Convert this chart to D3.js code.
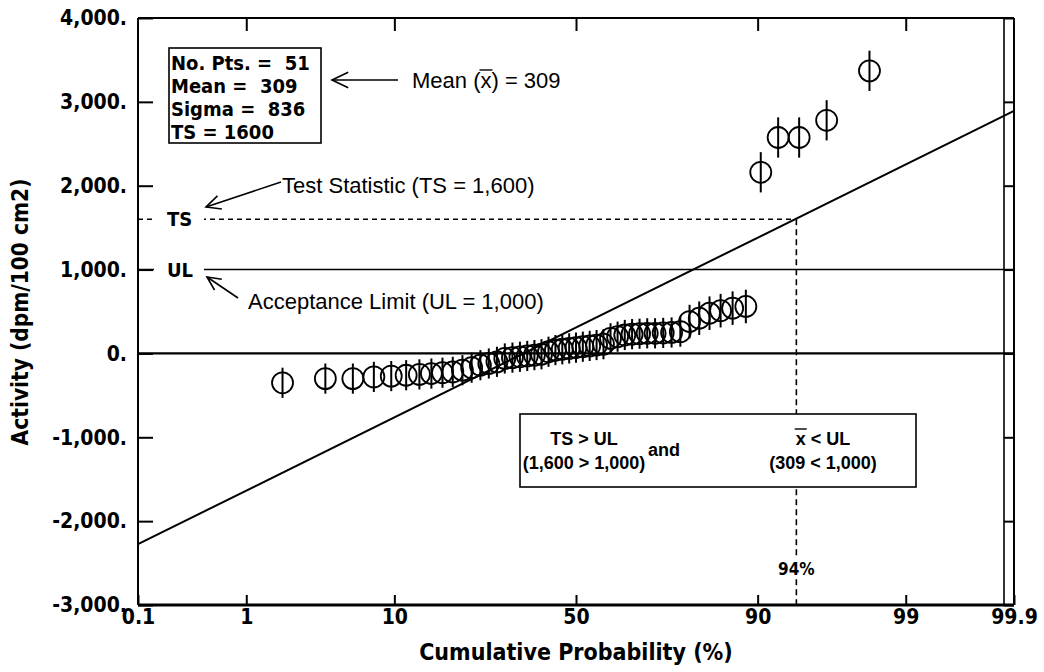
<!DOCTYPE html>
<html>
<head>
<meta charset="utf-8">
<script src="https://cdn.jsdelivr.net/npm/d3@7"></script>
<style>
  html, body { margin: 0; padding: 0; background: #fff; }
  svg { display: block; }
</style>
</head>
<body>
<div id="chart"></div>
<script>
// Probability plot - activity vs cumulative probability

// cumulative probability (%) of each ranked point
const cumProb = [1.92, 3.85, 5.77, 7.69, 9.62, 11.54, 13.46, 15.38, 17.31, 19.23,
  21.15, 23.08, 25.00, 26.92, 28.85, 30.77, 32.69, 34.62, 36.54, 38.46,
  40.38, 42.31, 44.23, 46.15, 48.08, 50.00, 51.92, 53.85, 55.77, 57.69,
  59.62, 61.54, 63.46, 65.38, 67.31, 69.23, 71.15, 73.08, 75.00, 76.92,
  78.85, 80.77, 82.69, 84.62, 86.54, 88.46, 90.38, 92.31, 94.23, 96.15, 98.08];

// activity (dpm/100 cm2)
const activity = [-350, -300, -300, -280, -270, -260, -250, -240, -230, -220,
  -200, -170, -140, -120, -100, -60, -50, -40, -30, -20,
  -10, 20, 40, 50, 60, 70, 80, 90, 100, 110,
  180, 200, 220, 230, 235, 240, 240, 245, 250, 260,
  380, 420, 480, 510, 540, 560, 2160, 2575, 2575, 2780, 3370];

// counting uncertainty (+/-)
const uncert = [180, 180, 180, 180, 180, 180, 180, 180, 180, 180,
  180, 180, 180, 180, 180, 180, 180, 180, 180, 180,
  180, 180, 180, 180, 180, 180, 180, 180, 180, 180,
  180, 180, 180, 180, 180, 180, 180, 180, 180, 180,
  200, 200, 200, 200, 200, 200, 240, 240, 240, 240, 240];

const statsLines = ['No. Pts. =  51', 'Mean =  309', 'Sigma =  836', 'TS = 1600'];
const meanVal = 309;
const sigmaVal = 836;
const tsVal = 1600;
const ulVal = 1000;
const tsProb = 94;

const xTicks = [0.1, 1, 10, 50, 90, 99, 99.9];
const xTopTicks = [1, 10, 50, 90, 99];
const yTicks = [-3000, -2000, -1000, 0, 1000, 2000, 3000, 4000];

// inverse normal CDF (Acklam)
function probit(p) {
  const a = [-3.969683028665376e+01, 2.209460984245205e+02, -2.759285104469687e+02, 1.383577518672690e+02, -3.066479806614716e+01, 2.506628277459239e+00];
  const b = [-5.447609879822406e+01, 1.615858368580409e+02, -1.556989798598866e+02, 6.680131188771972e+01, -1.328068155288572e+01];
  const c = [-7.784894002430293e-03, -3.223964580411365e-01, -2.400758277161838e+00, -2.549732539343734e+00, 4.374664141464968e+00, 2.938163982698783e+00];
  const d = [7.784695709041462e-03, 3.224671290700398e-01, 2.445134137142996e+00, 3.754408661907416e+00];
  const pl = 0.02425;
  let q, r;
  if (p < pl) {
    q = Math.sqrt(-2 * Math.log(p));
    return (((((c[0] * q + c[1]) * q + c[2]) * q + c[3]) * q + c[4]) * q + c[5]) / ((((d[0] * q + d[1]) * q + d[2]) * q + d[3]) * q + 1);
  }
  if (p <= 1 - pl) {
    q = p - 0.5; r = q * q;
    return (((((a[0] * r + a[1]) * r + a[2]) * r + a[3]) * r + a[4]) * r + a[5]) * q / (((((b[0] * r + b[1]) * r + b[2]) * r + b[3]) * r + b[4]) * r + 1);
  }
  q = Math.sqrt(-2 * Math.log(1 - p));
  return -(((((c[0] * q + c[1]) * q + c[2]) * q + c[3]) * q + c[4]) * q + c[5]) / ((((d[0] * q + d[1]) * q + d[2]) * q + d[3]) * q + 1);
}

const COND = "'DejaVu Sans Condensed', 'DejaVu Sans', sans-serif";
const PLAIN = "'Liberation Sans', Arial, sans-serif";

// bold condensed label style
function cond(sel, size) {
  return sel
    .attr('fill', '#000')
    .attr('font-family', COND)
    .attr('font-weight', 'bold')
    .attr('font-size', size + 'px')
    .style('font-stretch', 'condensed');
}

const width = 1044;
const height = 672;
const margin = { top: 18, right: 30, bottom: 67, left: 138 };
const innerWidth = width - margin.left - margin.right;
const innerHeight = height - margin.top - margin.bottom;

const svg = d3.select('#chart')
  .append('svg')
  .attr('width', width)
  .attr('height', height);

const g = svg.append('g')
  .attr('transform', `translate(${margin.left},${margin.top})`);

// Scales
const zScale = d3.scaleLinear()
  .domain([probit(0.001), probit(0.999)])
  .range([0, innerWidth]);
const x = pct => zScale(probit(pct / 100));

const y = d3.scaleLinear()
  .domain([-3000, 4000])
  .range([innerHeight, 0]);

// Fitted line: mean + sigma * z
const fitLine = d3.line()
  .x(d => x(d))
  .y(d => y(meanVal + sigmaVal * probit(d / 100)));

g.append('path')
  .datum([0.1, 99.9])
  .attr('fill', 'none')
  .attr('stroke', '#000')
  .attr('stroke-width', 2)
  .attr('d', fitLine);

// Zero line
g.append('line')
  .attr('x1', 0).attr('x2', innerWidth)
  .attr('y1', y(0)).attr('y2', y(0))
  .attr('stroke', '#000')
  .attr('stroke-width', 2.2);

// UL line
g.append('line')
  .attr('x1', 0).attr('x2', innerWidth)
  .attr('y1', y(ulVal)).attr('y2', y(ulVal))
  .attr('stroke', '#000')
  .attr('stroke-width', 1.6);

// TS dashed lines
g.append('line')
  .attr('x1', 0).attr('x2', x(tsProb))
  .attr('y1', y(tsVal)).attr('y2', y(tsVal))
  .attr('stroke', '#000')
  .attr('stroke-width', 1.6)
  .attr('stroke-dasharray', '5,4');

g.append('line')
  .attr('x1', x(tsProb)).attr('x2', x(tsProb))
  .attr('y1', y(tsVal)).attr('y2', innerHeight)
  .attr('stroke', '#000')
  .attr('stroke-width', 1.6)
  .attr('stroke-dasharray', '6,4');

// TS / UL labels on white
[{ t: 'TS', v: tsVal }, { t: 'UL', v: ulVal }].forEach(l => {
  g.append('rect')
    .attr('x', 16).attr('y', y(l.v) - 10)
    .attr('width', 50).attr('height', 20)
    .attr('fill', '#fff');
  cond(g.append('text'), 20)
    .attr('x', 29).attr('y', y(l.v) + 7)
    .text(l.t);
});

// Data points with error bars
const pts = cumProb.map((p, i) => ({ p, v: activity[i], e: uncert[i] }));

g.selectAll('.err')
  .data(pts)
  .enter()
  .append('line')
  .attr('class', 'err')
  .attr('x1', d => x(d.p)).attr('x2', d => x(d.p))
  .attr('y1', d => y(d.v - d.e)).attr('y2', d => y(d.v + d.e))
  .attr('stroke', '#000')
  .attr('stroke-width', 2);

g.selectAll('.pt')
  .data(pts)
  .enter()
  .append('circle')
  .attr('class', 'pt')
  .attr('cx', d => x(d.p))
  .attr('cy', d => y(d.v))
  .attr('r', 10.5)
  .attr('fill', 'none')
  .attr('stroke', '#000')
  .attr('stroke-width', 1.8);

// Axes
const yAxis = g.append('g')
  .call(d3.axisLeft(y)
    .tickValues(yTicks)
    .tickSizeInner(-15)
    .tickSizeOuter(0)
    .tickPadding(11)
    .tickFormat(d => (d < 0 ? '-' : '') + d3.format(',')(Math.abs(d)) + '.'));

yAxis.select('.domain').remove();
yAxis.selectAll('line').attr('stroke', '#000').attr('stroke-width', 2);
cond(yAxis.selectAll('text'), 21);

const yAxisRight = g.append('g')
  .attr('transform', `translate(${innerWidth},0)`)
  .call(d3.axisRight(y).tickValues(yTicks).tickSizeInner(-10).tickSizeOuter(0).tickFormat(''));
yAxisRight.select('.domain').remove();
yAxisRight.selectAll('line').attr('stroke', '#000').attr('stroke-width', 2);

const xAxis = g.append('g')
  .attr('transform', `translate(0,${innerHeight})`)
  .call(d3.axisBottom(zScale)
    .tickValues(xTicks.map(t => probit(t / 100)))
    .tickSizeInner(-10)
    .tickSizeOuter(0)
    .tickPadding(4)
    .tickFormat((d, i) => String(xTicks[i])));

xAxis.select('.domain').remove();
xAxis.selectAll('line').attr('stroke', '#000').attr('stroke-width', 2);
cond(xAxis.selectAll('text'), 21);

const xAxisTop = g.append('g')
  .call(d3.axisTop(zScale)
    .tickValues(xTopTicks.map(t => probit(t / 100)))
    .tickSizeInner(-13)
    .tickSizeOuter(0)
    .tickFormat(''));
xAxisTop.select('.domain').remove();
xAxisTop.selectAll('line').attr('stroke', '#000').attr('stroke-width', 2);

// Frame
g.append('line').attr('x1', 0).attr('x2', innerWidth).attr('y1', 0).attr('y2', 0)
  .attr('stroke', '#000').attr('stroke-width', 2);
g.append('line').attr('x1', 0).attr('x2', innerWidth).attr('y1', innerHeight).attr('y2', innerHeight)
  .attr('stroke', '#000').attr('stroke-width', 3);
g.append('line').attr('x1', 0).attr('x2', 0).attr('y1', 0).attr('y2', innerHeight)
  .attr('stroke', '#000').attr('stroke-width', 2);
g.append('line').attr('x1', innerWidth).attr('x2', innerWidth).attr('y1', 0).attr('y2', innerHeight)
  .attr('stroke', '#000').attr('stroke-width', 2);
g.append('line').attr('x1', innerWidth - 10).attr('x2', innerWidth - 10).attr('y1', 0).attr('y2', innerHeight)
  .attr('stroke', '#000').attr('stroke-width', 1.6);

// 94% label on the dashed line
g.append('rect')
  .attr('x', x(tsProb) - 19).attr('y', innerHeight - 47)
  .attr('width', 38).attr('height', 20)
  .attr('fill', '#fff');
cond(g.append('text'), 17)
  .attr('x', x(tsProb)).attr('y', innerHeight - 30)
  .attr('text-anchor', 'middle')
  .text(tsProb + '%');

// Stats box
svg.append('rect')
  .attr('x', 169).attr('y', 48)
  .attr('width', 152).attr('height', 95)
  .attr('fill', '#fff')
  .attr('stroke', '#000')
  .attr('stroke-width', 1.6);

statsLines.forEach((s, i) => {
  cond(svg.append('text'), 20)
    .attr('x', 171)
    .attr('y', 70 + i * 23)
    .style('white-space', 'pre')
    .text(s);
});

// Arrows
function arrow(x1, y1, x2, y2, size) {
  const ang = Math.atan2(y2 - y1, x2 - x1);
  const spread = 0.45;
  svg.append('line')
    .attr('x1', x1).attr('y1', y1).attr('x2', x2).attr('y2', y2)
    .attr('stroke', '#000').attr('stroke-width', 1.6);
  svg.append('path')
    .attr('d', `M${x2 - size * Math.cos(ang - spread)},${y2 - size * Math.sin(ang - spread)}L${x2},${y2}L${x2 - size * Math.cos(ang + spread)},${y2 - size * Math.sin(ang + spread)}`)
    .attr('fill', 'none')
    .attr('stroke', '#000')
    .attr('stroke-width', 1.6);
}

// overline helper for a single character of a text element
function overline(textSel, idx, gap) {
  const node = textSel.node();
  const s = node.getStartPositionOfChar(idx);
  const e = node.getEndPositionOfChar(idx);
  const bb = node.getBBox();
  svg.append('line')
    .attr('x1', s.x - 1).attr('x2', e.x + 1)
    .attr('y1', bb.y + gap).attr('y2', bb.y + gap)
    .attr('stroke', '#000')
    .attr('stroke-width', 1.4);
}

arrow(398, 80, 332, 80, 18);
const meanText = svg.append('text')
  .attr('x', 412).attr('y', 88)
  .attr('font-family', PLAIN)
  .attr('font-size', '22px')
  .text(`Mean (x) = ${meanVal}`);
overline(meanText, 6, 2);

arrow(281, 182, 206, 207, 16);
svg.append('text')
  .attr('x', 282).attr('y', 193)
  .attr('font-family', PLAIN)
  .attr('font-size', '22px')
  .text('Test Statistic (TS = 1,600)');

arrow(238, 298, 207, 277, 15);
svg.append('text')
  .attr('x', 248).attr('y', 309)
  .attr('font-family', PLAIN)
  .attr('font-size', '22px')
  .text('Acceptance Limit (UL = 1,000)');

// Conclusion box
svg.append('rect')
  .attr('x', 520).attr('y', 414)
  .attr('width', 396).attr('height', 73)
  .attr('fill', '#fff')
  .attr('stroke', '#000')
  .attr('stroke-width', 1.6);

const boxText = (tx, ty, s, anchor) => svg.append('text')
  .attr('x', tx).attr('y', ty)
  .attr('text-anchor', anchor || 'middle')
  .attr('font-family', PLAIN)
  .attr('font-weight', 'bold')
  .attr('font-size', '18px')
  .text(s);

boxText(584, 445, 'TS > UL');
boxText(584, 469, '(1,600 > 1,000)');
boxText(648, 456, 'and', 'start');
const xbarText = boxText(823, 445, 'x < UL');
overline(xbarText, 0, 0);
boxText(823, 469, '(309 < 1,000)');

// Axis titles
cond(svg.append('text'), 23)
  .attr('x', margin.left + innerWidth / 2)
  .attr('y', 660)
  .attr('text-anchor', 'middle')
  .text('Cumulative Probability (%)');

cond(svg.append('text'), 22.5)
  .attr('transform', 'rotate(-90)')
  .attr('x', -312)
  .attr('y', 28)
  .attr('text-anchor', 'middle')
  .text('Activity (dpm/100 cm2)');
</script>
</body>
</html>
